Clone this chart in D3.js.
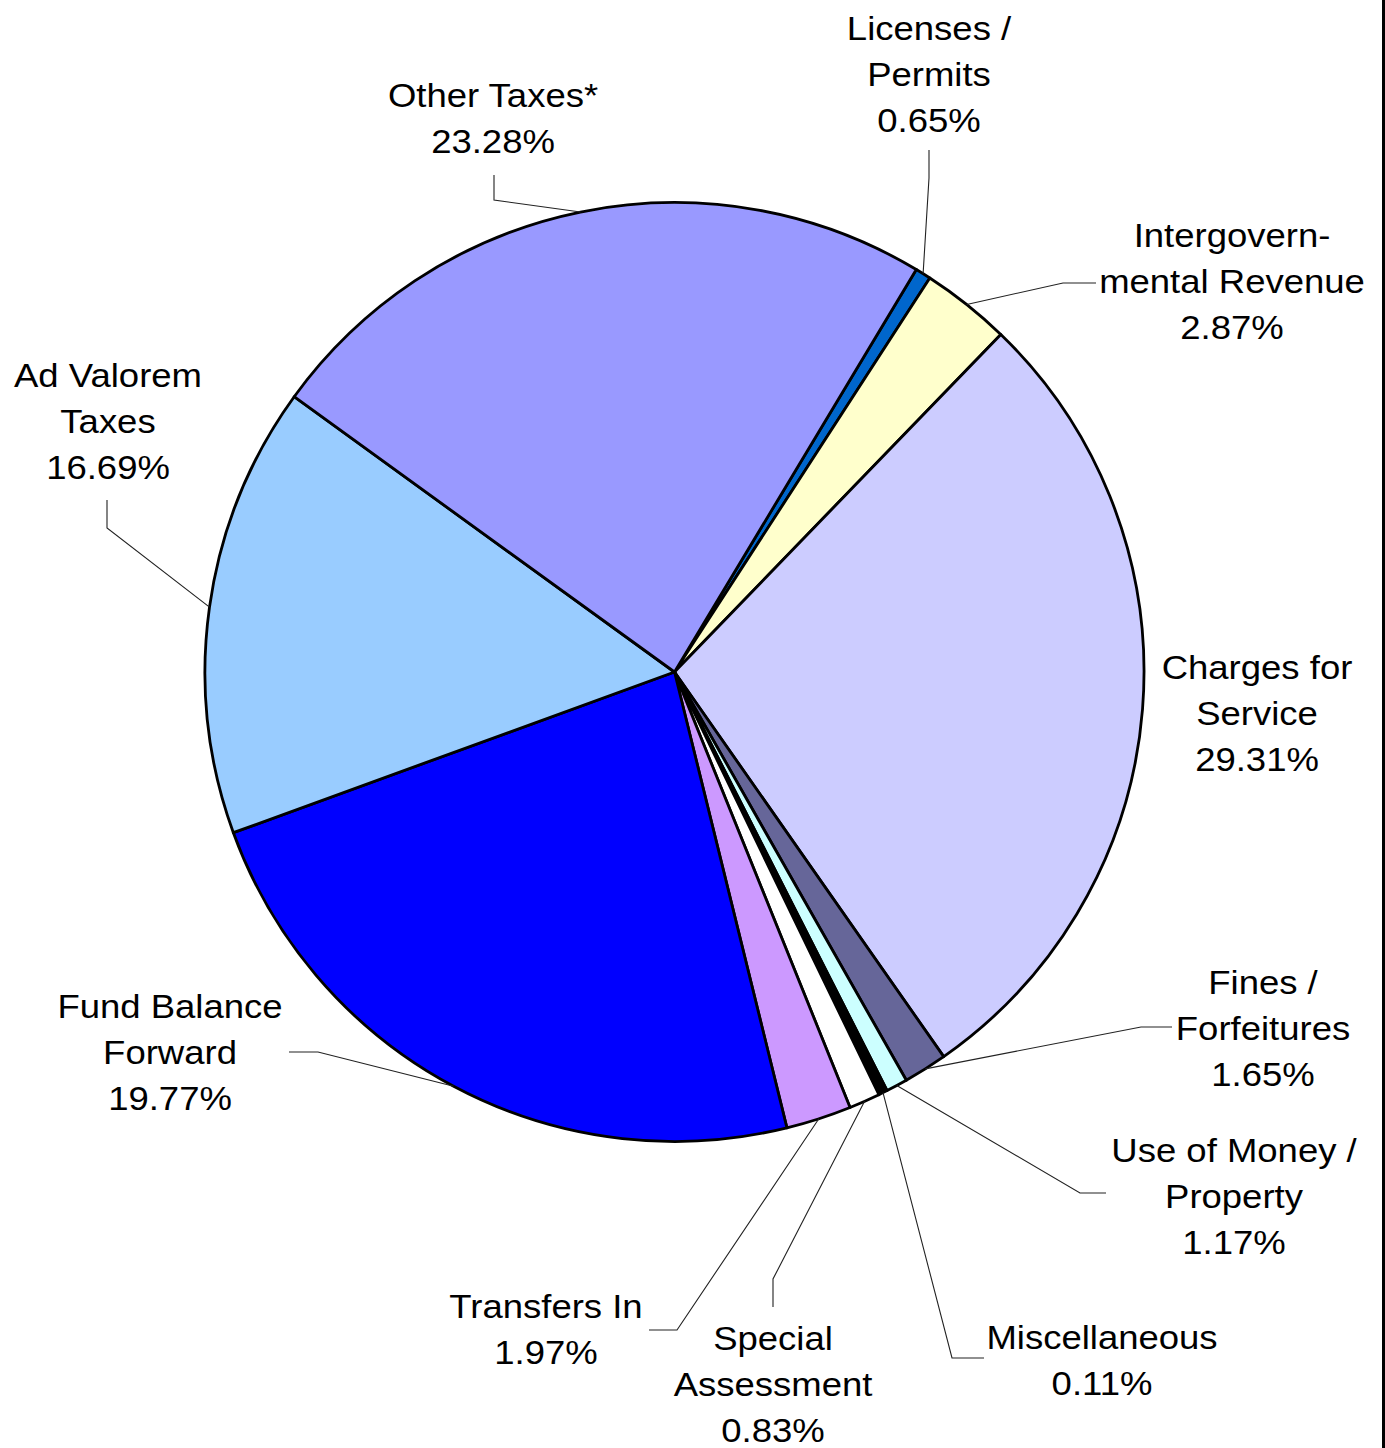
<!DOCTYPE html>
<html>
<head>
<meta charset="utf-8">
<script src="https://cdn.jsdelivr.net/npm/d3@7"></script>
<style>
  html, body { margin: 0; padding: 0; background: #fff; }
  svg { display: block; }
</style>
</head>
<body>
<div id="chart"></div>
<script>
// Revenue sources, clockwise from the Licenses slice
const categories = [
    ["Licenses /", "Permits"],
    ["Intergovern-", "mental Revenue"],
    ["Charges for", "Service"],
    ["Fines /", "Forfeitures"],
    ["Use of Money /", "Property"],
    ["Miscellaneous"],
    ["Special", "Assessment"],
    ["Transfers In"],
    ["Fund Balance", "Forward"],
    ["Ad Valorem", "Taxes"],
    ["Other Taxes*"]
];
// percentages printed on the labels
const pctLabels = ["0.65%", "2.87%", "29.31%", "1.65%", "1.17%", "0.11%", "0.83%", "1.97%", "19.77%", "16.69%", "23.28%"];
// slice sizes as drawn in the picture (the printed labels don't add up to 100)
const shares = [0.54, 3.08, 28.05, 1.50, 0.74, 0.31, 1.07, 2.25, 23.29, 15.53, 23.64];
const colors = ["#0066CC", "#FFFFCC", "#CCCCFF", "#666699", "#CCFFFF", "#000000", "#FFFFFF", "#CC99FF", "#0000FF", "#99CCFF", "#9999FF"];

const W = 1385, H = 1448;
const cx = 674.5, cy = 672, R = 469.5;
const startDeg = 31.0;

// label placement: centre x, first baseline, then leader elbow + end
const labelPos = [
    { x: 929,  y: 40,   elbow: [929, 178],  end: [929, 150] },
    { x: 1232, y: 247,  elbow: [1063, 283], end: [1096, 283] },
    { x: 1257, y: 679 },
    { x: 1263, y: 994,  elbow: [1141, 1027], end: [1172, 1027] },
    { x: 1234, y: 1162, elbow: [1080, 1193], end: [1106, 1193] },
    { x: 1102, y: 1349, elbow: [952, 1358],  end: [984, 1358] },
    { x: 773,  y: 1350, elbow: [773, 1279],  end: [773, 1307] },
    { x: 546,  y: 1318, elbow: [677, 1330],  end: [649, 1330] },
    { x: 170,  y: 1018, elbow: [318, 1052],  end: [289, 1052] },
    { x: 108,  y: 387,  elbow: [107, 528],   end: [107, 500] },
    { x: 493,  y: 107,  elbow: [494, 200],   end: [494, 175] }
];
const lineH = 46;

const svg = d3.select("#chart").append("svg")
    .attr("width", W)
    .attr("height", H)
    .attr("viewBox", `0 0 ${W} ${H}`);

const pie = d3.pie()
    .sort(null)
    .value(d => d)
    .startAngle(startDeg * Math.PI / 180)
    .endAngle((startDeg + 360) * Math.PI / 180);

const arcs = pie(shares);
const arc = d3.arc().innerRadius(0).outerRadius(R);

const g = svg.append("g").attr("transform", `translate(${cx},${cy})`);

g.selectAll("path.slice")
    .data(arcs)
    .join("path")
    .attr("class", "slice")
    .attr("d", arc)
    .attr("fill", (d, i) => colors[i])
    .attr("stroke", "#000")
    .attr("stroke-width", 2.8)
    .attr("stroke-linejoin", "round");

// leader lines start on the rim at each slice's mid angle
const leaders = svg.append("g");
arcs.forEach((a, i) => {
    const p = labelPos[i];
    if (!p.elbow) return;
    const mid = (a.startAngle + a.endAngle) / 2;
    const sx = cx + R * Math.sin(mid);
    const sy = cy - R * Math.cos(mid);
    leaders.append("polyline")
        .attr("points", [[sx, sy], p.elbow, p.end].map(q => q.join(",")).join(" "))
        .attr("fill", "none")
        .attr("stroke", "#222")
        .attr("stroke-width", 1.1);
});

// labels - reference glyphs are ~10% wider than Liberation Sans, so stretch x
const labels = svg.append("g")
    .attr("font-family", "'Liberation Sans', Arial, sans-serif")
    .attr("font-size", 33.5)
    .attr("fill", "#000")
    .attr("text-anchor", "middle");

categories.forEach((lines, i) => {
    const p = labelPos[i];
    const t = labels.append("text")
        .attr("transform", `translate(${p.x},0) scale(1.09,1)`);
    lines.concat([pctLabels[i]]).forEach((s, k) => {
        t.append("tspan")
            .attr("x", 0)
            .attr("y", p.y + k * lineH)
            .text(s);
    });
});

// right frame edge
svg.append("line")
    .attr("x1", 1383.5).attr("x2", 1383.5)
    .attr("y1", 0).attr("y2", H)
    .attr("stroke", "#000")
    .attr("stroke-width", 3);
</script>
</body>
</html>
